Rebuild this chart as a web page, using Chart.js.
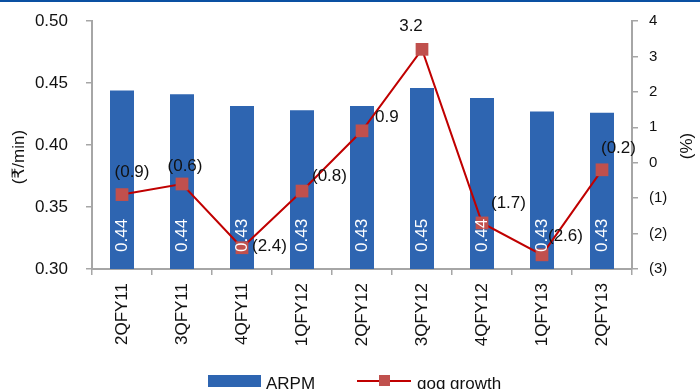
<!DOCTYPE html>
<html>
<head>
<meta charset="utf-8">
<script src="https://cdn.jsdelivr.net/npm/chart.js@4"></script>
<style>
  html, body { margin: 0; padding: 0; background: #fff; overflow: hidden; }
  #wrap { width: 700px; height: 389px; }
</style>
</head>
<body>
<div id="wrap"><canvas id="arpmChart" width="700" height="389"></canvas></div>
<script>
// quarters
var quarters = ["2QFY11", "3QFY11", "4QFY11", "1QFY12", "2QFY12", "3QFY12", "4QFY12", "1QFY13", "2QFY13"];
// ARPM (Rs/min)
var arpm = [0.444, 0.441, 0.4315, 0.428, 0.4315, 0.446, 0.438, 0.427, 0.426];
// quarter on quarter growth (%)
var qoqGrowth = [-0.9, -0.6, -2.4, -0.8, 0.9, 3.2, -1.7, -2.6, -0.2];
// axis ranges
var arpmTicks = { min: 0.30, max: 0.50, step: 0.05 };
var growthTicks = { min: -3, max: 4, step: 1 };

// where each growth label sits relative to its marker: [dx, dy, align]
var growthLabelPos = [
  [10, -22, 'center'], [3, -18, 'center'], [10, -1, 'left'],
  [10, -15, 'left'], [13, -14, 'left'], [-11, -23, 'center'],
  [9, -20, 'left'], [6, -19, 'left'], [-1, -21, 'left']
];

var FONT = "'Liberation Sans', 'DejaVu Sans', sans-serif";
var AXIS = '#a6a6a6';
var BLUE = '#2e65b1';
var RED = '#c00000';
var MARK = '#c0504d';

function fmtPct(v) {
  if (v < 0) return '(' + Math.abs(v).toFixed(1) + ')';
  return v.toFixed(1);
}

// keep the plot area fixed: fixed axis width, no extra label padding
function fixWidth(w) {
  return function (s) {
    s.width = w;
    s.paddingTop = 0;
    s.paddingBottom = 0;
  };
}

var labelsPlugin = {
  id: 'labels',
  afterDatasetsDraw: function (chart) {
    var ctx = chart.ctx;
    var bars = chart.getDatasetMeta(1).data;
    var pts = chart.getDatasetMeta(0).data;
    var base = chart.scales.y.getPixelForValue(arpmTicks.min);

    // white values inside the bars
    ctx.save();
    ctx.fillStyle = '#fff';
    ctx.font = '17px ' + FONT;
    ctx.textAlign = 'left';
    ctx.textBaseline = 'middle';
    bars.forEach(function (b, i) {
      ctx.save();
      ctx.translate(b.x, base - 17);
      ctx.rotate(-Math.PI / 2);
      ctx.fillText(arpm[i].toFixed(2), 0, 0);
      ctx.restore();
    });
    ctx.restore();

    // growth labels
    ctx.save();
    ctx.fillStyle = '#111';
    ctx.font = '17px ' + FONT;
    ctx.textBaseline = 'middle';
    pts.forEach(function (p, i) {
      var pos = growthLabelPos[i];
      ctx.textAlign = pos[2];
      ctx.fillText(fmtPct(qoqGrowth[i]), p.x + pos[0], p.y + pos[1]);
    });
    ctx.restore();
  },
  afterDraw: function (chart) {
    var ctx = chart.ctx;
    var area = chart.chartArea;
    var midY = (area.top + area.bottom) / 2;
    ctx.save();
    // top rule
    ctx.fillStyle = '#0a50a2';
    ctx.fillRect(0, 0, chart.width, 2);

    // axis titles
    ctx.fillStyle = '#111';
    ctx.font = '17px ' + FONT;
    ctx.textAlign = 'center';
    ctx.textBaseline = 'middle';
    ctx.save();
    ctx.translate(19, midY + 12);
    ctx.rotate(-Math.PI / 2);
    ctx.fillText('(\u20B9/min)', 0, 0);
    ctx.restore();
    ctx.save();
    ctx.translate(687, midY + 1);
    ctx.rotate(-Math.PI / 2);
    ctx.fillText('(%)', 0, 0);
    ctx.restore();

    // legend
    ctx.font = '17px ' + FONT;
    ctx.textAlign = 'left';
    ctx.textBaseline = 'alphabetic';
    ctx.fillStyle = BLUE;
    ctx.fillRect(208, 375, 53, 12);
    ctx.fillStyle = '#111';
    ctx.fillText('ARPM', 266, 389);
    ctx.strokeStyle = RED;
    ctx.lineWidth = 2;
    ctx.beginPath();
    ctx.moveTo(357, 381);
    ctx.lineTo(411, 381);
    ctx.stroke();
    ctx.fillStyle = MARK;
    ctx.fillRect(379, 375, 11, 11);
    ctx.fillStyle = '#111';
    ctx.fillText('qoq growth', 417, 389);
    ctx.restore();
  }
};

var ctx = document.getElementById('arpmChart').getContext('2d');
var arpmChart = new Chart(ctx, {
  type: 'bar',
  data: {
    labels: quarters,
    datasets: [{
      type: 'line',
      label: 'qoq growth',
      data: qoqGrowth,
      yAxisID: 'y1',
      borderColor: RED,
      borderWidth: 2,
      pointStyle: 'rect',
      pointRadius: 9,
      pointBackgroundColor: MARK,
      pointBorderColor: MARK,
      pointBorderWidth: 0,
      tension: 0,
      order: 0
    }, {
      label: 'ARPM',
      data: arpm,
      yAxisID: 'y',
      backgroundColor: BLUE,
      categoryPercentage: 1,
      barPercentage: 0.4,
      order: 1
    }]
  },
  options: {
    responsive: false,
    animation: false,
    events: [],
    layout: { padding: { top: 21, left: 0, right: 0, bottom: 0 } },
    plugins: { legend: { display: false }, tooltip: { enabled: false } },
    scales: {
      x: {
        offset: true,
        grid: { offset: true, drawOnChartArea: false, tickLength: 6, color: AXIS, lineWidth: 1.5 },
        border: { color: AXIS, width: 2 },
        ticks: { minRotation: 90, maxRotation: 90, padding: 8, color: '#111', font: { family: FONT, size: 17 } },
        afterFit: function (s) { s.height = 120; }
      },
      y: {
        position: 'left',
        min: arpmTicks.min,
        max: arpmTicks.max,
        grid: { drawOnChartArea: false, tickLength: 6, color: AXIS, lineWidth: 1.5 },
        border: { color: AXIS, width: 2 },
        ticks: {
          stepSize: arpmTicks.step,
          padding: 18,
          color: '#111',
          font: { family: FONT, size: 17 },
          callback: function (v) { return Number(v).toFixed(2); }
        },
        afterFit: fixWidth(92)
      },
      y1: {
        position: 'right',
        min: growthTicks.min,
        max: growthTicks.max,
        grid: { drawOnChartArea: false, tickLength: 6, color: AXIS, lineWidth: 1.5 },
        border: { color: AXIS, width: 2 },
        ticks: {
          stepSize: growthTicks.step,
          padding: 11,
          color: '#111',
          font: { family: FONT, size: 15 },
          callback: function (v) { return v < 0 ? '(' + Math.abs(v) + ')' : String(v); }
        },
        afterFit: fixWidth(68)
      }
    }
  },
  plugins: [labelsPlugin]
});
</script>
</body>
</html>
